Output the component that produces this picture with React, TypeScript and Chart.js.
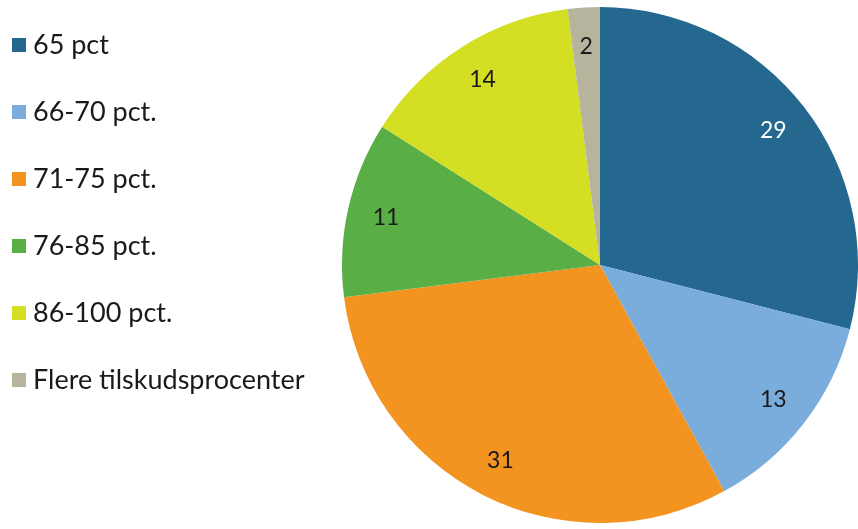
import React, { useEffect, useRef } from "react";
import { Chart, registerables } from "chart.js";

Chart.register(...registerables);

const categories = [
  "65 pct",
  "66-70 pct.",
  "71-75 pct.",
  "76-85 pct.",
  "86-100 pct.",
  "Flere tilskudsprocenter",
];
const values = [29, 13, 31, 11, 14, 2];
const colors = ["#25688f", "#7aaddb", "#f39320", "#5aae46", "#d4de22", "#b6b49c"];
const labelColors = ["#ffffff", "#1a1a1a", "#1a1a1a", "#1a1a1a", "#1a1a1a", "#1a1a1a"];

const FONT = "Lato, 'Open Sans', sans-serif";

const valueLabels = {
  id: "valueLabels",
  afterDatasetsDraw(chart: any) {
    const ctx = chart.ctx;
    const meta = chart.getDatasetMeta(0);
    ctx.save();
    ctx.font = `23px ${FONT}`;
    ctx.textAlign = "center";
    ctx.textBaseline = "middle";
    meta.data.forEach((arc: any, i: number) => {
      const p = arc.getProps(["x", "y", "startAngle", "endAngle", "outerRadius"], true);
      const mid = (p.startAngle + p.endAngle) / 2;
      const r = p.outerRadius * 0.85;
      ctx.fillStyle = labelColors[i];
      ctx.fillText(String(values[i]), p.x + Math.cos(mid) * r, p.y + Math.sin(mid) * r);
    });
    ctx.restore();
  },
};

const sideLegend = {
  id: "sideLegend",
  afterDraw(chart: any) {
    const ctx = chart.ctx;
    ctx.save();
    ctx.font = `27px ${FONT}`;
    ctx.textAlign = "left";
    ctx.textBaseline = "middle";
    categories.forEach((label, i) => {
      const y = 45 + i * 67;
      ctx.fillStyle = colors[i];
      ctx.fillRect(12, y - 7, 14, 14);
      ctx.fillStyle = "#1a1a1a";
      ctx.fillText(label, 33, y);
    });
    ctx.restore();
  },
};

export default function App() {
  const ref = useRef<HTMLCanvasElement>(null);
  useEffect(() => {
    document.body.style.margin = "0";
    const chart = new Chart(ref.current!, {
      type: "pie",
      data: {
        labels: categories,
        datasets: [
          {
            data: values,
            backgroundColor: colors,
            borderWidth: 0,
          },
        ],
      },
      options: {
        animation: false,
        responsive: true,
        maintainAspectRatio: false,
        layout: { padding: { top: 7, bottom: 6, left: 342, right: 0 } },
        plugins: {
          tooltip: { enabled: false },
          legend: { display: false },
        },
      },
      plugins: [valueLabels, sideLegend],
    });
    return () => chart.destroy();
  }, []);
  return (
    <div style={{ position: "fixed", left: 0, top: 0, width: 858, height: 529 }}>
      <canvas ref={ref} />
    </div>
  );
}
